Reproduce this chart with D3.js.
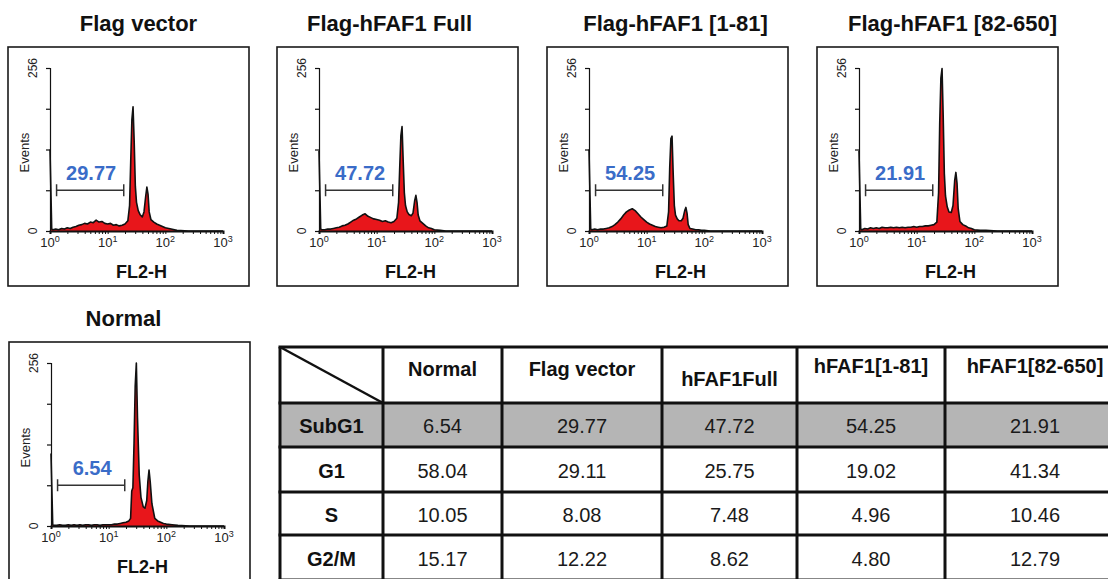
<!DOCTYPE html>
<html>
<head>
<meta charset="utf-8">
<script src="https://cdn.jsdelivr.net/npm/d3@7"></script>
<style>
body { margin: 0; background: #fff; }
svg { display: block; font-family: "Liberation Sans", Arial, Helvetica, sans-serif; }
</style>
</head>
<body>
<div id="chart"></div>
<script>
// --------------- Data ---------------
// FL2-H channel positions in decades (log10), shared by all histograms
const channels = [0, 0.03, 0.05, 0.1, 0.15, 0.2, 0.25, 0.3, 0.35, 0.4, 0.45, 0.5, 0.55, 0.6, 0.65,
  0.7, 0.75, 0.8, 0.85, 0.9, 0.95, 1.0, 1.05, 1.1, 1.15, 1.2, 1.25, 1.3, 1.35, 1.38, 1.4, 1.42,
  1.44, 1.46, 1.48, 1.5, 1.53, 1.56, 1.6, 1.63, 1.66, 1.68, 1.7, 1.72, 1.75, 1.8, 1.85, 1.9,
  1.95, 2.0, 2.1, 2.2, 2.4, 2.6, 2.8, 3.0];

const countsFlagVector = [128, 3, 2, 3, 2, 4, 3, 5, 4, 6, 7, 9, 10, 12, 11, 14, 13, 17, 14, 15,
  12, 11, 12, 9, 10, 8, 9, 11, 16, 40, 110, 175, 195, 140, 70, 45, 32, 26, 22, 30, 55, 69, 58,
  30, 18, 14, 11, 9, 7, 5, 3, 1, 0, 0, 0, 0];
const countsFull = [126, 3, 2, 2, 3, 3, 4, 5, 6, 8, 9, 11, 14, 17, 19, 22, 25, 27, 23, 21, 19,
  18, 17, 15, 16, 14, 13, 15, 20, 45, 100, 150, 164, 110, 60, 40, 30, 26, 24, 28, 48, 56, 45,
  25, 16, 12, 8, 5, 4, 2, 1, 0, 0, 0, 0, 0];
const counts1to81 = [128, 3, 2, 3, 2, 3, 3, 4, 5, 7, 10, 14, 19, 25, 30, 33, 35, 32, 27, 22, 18,
  14, 11, 9, 7, 6, 5, 6, 8, 30, 100, 145, 149, 90, 40, 25, 19, 16, 16, 20, 32, 37, 28, 10, 4,
  3, 2, 2, 1, 1, 0, 0, 0, 0, 0, 0];
const counts82to650 = [126, 3, 2, 4, 3, 5, 4, 5, 4, 6, 5, 5, 6, 5, 6, 5, 6, 5, 6, 6, 7, 6, 7, 7,
  8, 8, 9, 10, 14, 60, 170, 240, 255, 180, 90, 55, 38, 30, 29, 40, 80, 92, 75, 35, 15, 10, 8, 5,
  4, 2, 1, 1, 0, 0, 0, 0];
const countsNormal = [114, 2, 1, 1, 2, 1, 1, 2, 1, 2, 1, 2, 1, 2, 2, 1, 2, 2, 1, 2, 2, 2, 2, 3,
  3, 4, 5, 6, 8, 12, 55, 60, 130, 220, 256, 170, 80, 45, 30, 28, 40, 70, 88, 70, 35, 12, 8, 6,
  4, 3, 2, 1, 0, 0, 0, 0];

const panelTitles = ["Flag vector", "Flag-hFAF1 Full", "Flag-hFAF1 [1-81]", "Flag-hFAF1 [82-650]", "Normal"];
const subG1Labels = ["29.77", "47.72", "54.25", "21.91", "6.54"];
const yTicks = [0, 64, 128, 192, 256];
const yTickLabels = [0, 256];
const xDecades = [1, 10, 100, 1000];
const gateRange = [1.3, 19];
const gateLevel = 64;

// table
const tableColumns = ["Normal", "Flag vector", "hFAF1Full", "hFAF1[1-81]", "hFAF1[82-650]"];
const tablePhases = ["SubG1", "G1", "S", "G2/M"];
const pctNormal = [6.54, 58.04, 10.05, 15.17];
const pctFlagVector = [29.77, 29.11, 8.08, 12.22];
const pctFull = [47.72, 25.75, 7.48, 8.62];
const pct1to81 = [54.25, 19.02, 4.96, 4.80];
const pct82to650 = [21.91, 41.34, 10.46, 12.79];

// --------------- Layout ---------------
const WIDTH = 1108, HEIGHT = 579;
const PANEL_W = 241, PANEL_H = 239;
const AX_LEFT = 42, AX_TOP = 21, AX_W = 173, AX_H = 163;
const RED = "#e8161b";
const BLUE = "#3a6cc8";

const panels = [
  { counts: countsFlagVector, x: 8, y: 47, titleDx: 10 },
  { counts: countsFull, x: 277, y: 47, titleDx: -8 },
  { counts: counts1to81, x: 547, y: 47, titleDx: 8 },
  { counts: counts82to650, x: 817, y: 47, titleDx: 15 },
  { counts: countsNormal, x: 9, y: 342, titleDx: -6 }
];

const svg = d3.select("#chart").append("svg")
  .attr("width", WIDTH)
  .attr("height", HEIGHT);

const x = d3.scaleLog().domain([1, 1000]).range([0, AX_W]);
const y = d3.scaleLinear().domain([0, 256]).range([AX_H, 0]);

const area = d3.area()
  .x(d => x(Math.pow(10, d.c)))
  .y0(AX_H)
  .y1(d => y(d.n));
const line = d3.line()
  .x(d => x(Math.pow(10, d.c)))
  .y(d => y(d.n));

panels.forEach(function (p, i) {
  const pg = svg.append("g").attr("transform", `translate(${p.x},${p.y})`);

  pg.append("rect")
    .attr("width", PANEL_W).attr("height", PANEL_H)
    .attr("fill", "#fff").attr("stroke", "#1a1a1a").attr("stroke-width", 1.6);

  pg.append("text")
    .attr("x", PANEL_W / 2 + p.titleDx).attr("y", -16)
    .attr("text-anchor", "middle")
    .attr("font-size", 22).attr("font-weight", "bold").attr("fill", "#111")
    .text(panelTitles[i]);

  const g = pg.append("g").attr("transform", `translate(${AX_LEFT},${AX_TOP})`);

  const data = channels.map((c, k) => ({ c: c, n: p.counts[k] }));

  g.append("path").datum(data)
    .attr("d", area).attr("fill", RED);

  // y axis
  const gy = g.append("g")
    .call(d3.axisLeft(y).tickValues(yTicks).tickSize(4).tickFormat(""));
  gy.select(".domain").attr("stroke", "#111").attr("stroke-width", 1.2);
  gy.selectAll(".tick line").attr("stroke", "#111").attr("stroke-width", 1.2);

  g.append("path").datum(data)
    .attr("d", line).attr("fill", "none")
    .attr("stroke", "#111").attr("stroke-width", 1.6).attr("stroke-linejoin", "round");

  g.selectAll(".ylab").data(yTickLabels).enter().append("text")
    .attr("transform", d => `translate(-13,${y(d)}) rotate(-90)`)
    .attr("text-anchor", "middle")
    .attr("font-size", 12).attr("fill", "#222")
    .text(d => d);

  g.append("text")
    .attr("transform", `translate(-21,${AX_H / 2 + 3}) rotate(-90)`)
    .attr("text-anchor", "middle")
    .attr("font-size", 13).attr("fill", "#222")
    .text("Events");

  // x axis
  const gx = g.append("g")
    .attr("transform", `translate(0,${AX_H})`)
    .call(d3.axisBottom(x).tickValues(x.ticks()).tickSize(3).tickFormat(""));
  gx.select(".domain").attr("stroke", "#111").attr("stroke-width", 2);
  gx.selectAll(".tick line").attr("stroke", "#111").attr("stroke-width", 1);

  const xl = g.selectAll(".xlab").data(xDecades).enter().append("text")
    .attr("x", d => x(d)).attr("y", AX_H + 16)
    .attr("text-anchor", "middle")
    .attr("font-size", 13).attr("fill", "#222");
  xl.append("tspan").text("10");
  xl.append("tspan")
    .attr("dy", -5).attr("font-size", 9)
    .text(d => Math.round(Math.log10(d)));

  g.append("text")
    .attr("x", AX_W / 2 + 5).attr("y", AX_H + 47)
    .attr("text-anchor", "middle")
    .attr("font-size", 18).attr("font-weight", "bold").attr("fill", "#111")
    .text("FL2-H");

  // sub-G1 gate marker
  const gx0 = x(gateRange[0]), gx1 = x(gateRange[1]), gyv = y(gateLevel);
  const gate = g.append("g").attr("stroke", "#333").attr("stroke-width", 1.5);
  gate.append("line").attr("x1", gx0).attr("x2", gx1).attr("y1", gyv).attr("y2", gyv);
  gate.append("line").attr("x1", gx0).attr("x2", gx0).attr("y1", gyv - 6).attr("y2", gyv + 6);
  gate.append("line").attr("x1", gx1).attr("x2", gx1).attr("y1", gyv - 6).attr("y2", gyv + 6);

  g.append("text")
    .attr("x", (gx0 + gx1) / 2 + 1).attr("y", gyv - 10)
    .attr("text-anchor", "middle")
    .attr("font-size", 20).attr("font-weight", "bold").attr("fill", BLUE)
    .text(subG1Labels[i]);
});

// --------------- Table ---------------
const colEdges = [280, 383, 502, 662, 797, 945, 1125];
const rowEdges = [347, 403, 447, 492, 535, 580];
const headerBaseline = [376, 376, 386, 373, 373];
const columnValues = [pctNormal, pctFlagVector, pctFull, pct1to81, pct82to650];
const fmt = d3.format(".2f");

const tg = svg.append("g");

tg.append("rect")
  .attr("x", colEdges[0]).attr("y", rowEdges[1])
  .attr("width", colEdges[colEdges.length - 1] - colEdges[0])
  .attr("height", rowEdges[2] - rowEdges[1])
  .attr("fill", "#b5b5b5");

tg.selectAll(".hline").data(rowEdges).enter().append("line")
  .attr("x1", colEdges[0] - 1.5).attr("x2", colEdges[colEdges.length - 1])
  .attr("y1", d => d).attr("y2", d => d)
  .attr("stroke", "#111").attr("stroke-width", 3);
tg.selectAll(".vline").data(colEdges).enter().append("line")
  .attr("x1", d => d).attr("x2", d => d)
  .attr("y1", rowEdges[0]).attr("y2", rowEdges[rowEdges.length - 1])
  .attr("stroke", "#111").attr("stroke-width", 3);
tg.append("line")
  .attr("x1", colEdges[0]).attr("y1", rowEdges[0])
  .attr("x2", colEdges[1]).attr("y2", rowEdges[1])
  .attr("stroke", "#111").attr("stroke-width", 2.5);

tableColumns.forEach(function (name, j) {
  const cx = (colEdges[j + 1] + colEdges[j + 2]) / 2;
  tg.append("text")
    .attr("x", cx).attr("y", headerBaseline[j])
    .attr("text-anchor", "middle")
    .attr("font-size", 20).attr("font-weight", "bold").attr("fill", "#111")
    .text(name);
  columnValues[j].forEach(function (v, r) {
    tg.append("text")
      .attr("x", cx).attr("y", (rowEdges[r + 1] + rowEdges[r + 2]) / 2 + 8)
      .attr("text-anchor", "middle")
      .attr("font-size", 20).attr("fill", "#1a1a1a")
      .text(fmt(v));
  });
});

tablePhases.forEach(function (ph, r) {
  tg.append("text")
    .attr("x", (colEdges[0] + colEdges[1]) / 2)
    .attr("y", (rowEdges[r + 1] + rowEdges[r + 2]) / 2 + 8)
    .attr("text-anchor", "middle")
    .attr("font-size", 20).attr("font-weight", "bold").attr("fill", "#111")
    .text(ph);
});
</script>
</body>
</html>
